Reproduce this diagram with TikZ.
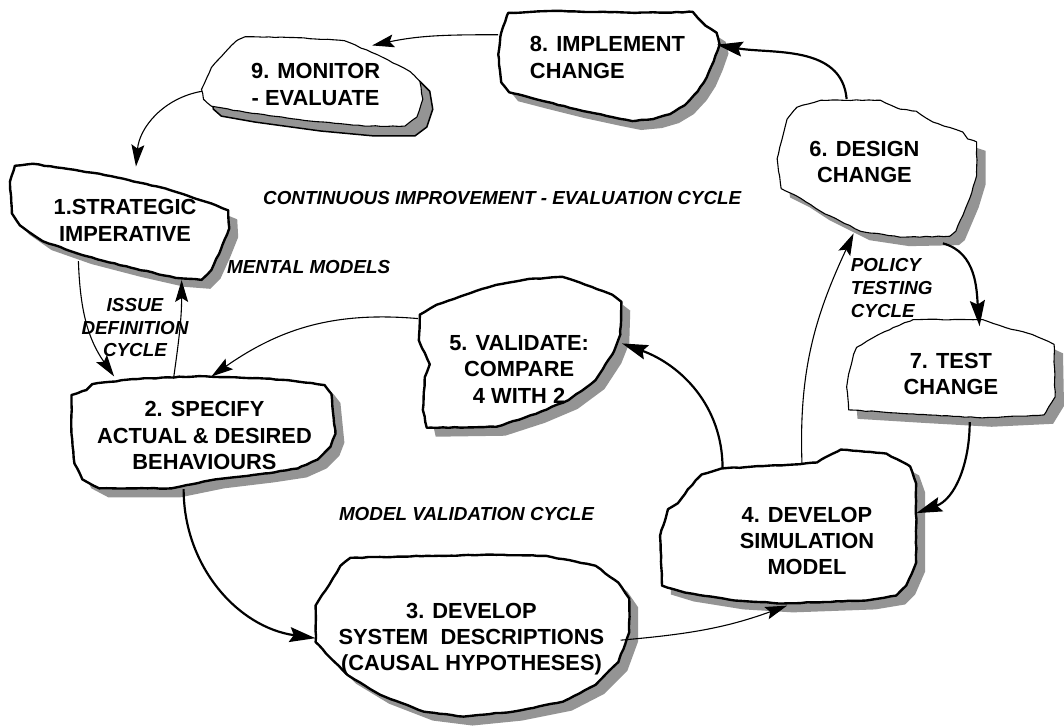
\documentclass[tikz,border=0pt]{standalone}
\usepackage{fontspec}
\setmainfont{Liberation Sans}
\usetikzlibrary{arrows.meta,decorations.pathmorphing}

\tikzset{
  blobshadow/.style={fill=black!42, draw=none},
  blobthick/.style={draw, fill=white, line width=2.4pt, line join=round,
    decorate, decoration={random steps, segment length=6pt, amplitude=0.4pt}},
  blobthin/.style={blobthick, line width=1.1pt},
  boxtext/.style={font=\fontsize{22}{26.5}\selectfont\bfseries, align=center, inner sep=0pt},
  cyclelabel/.style={font=\fontsize{19}{23}\selectfont\bfseries\itshape, align=center, inner sep=0pt},
  link/.style={-{Stealth[length=22pt,width=13pt,inset=4pt]}, line width=1.1pt},
  boldlink/.style={-{Stealth[length=26pt,width=15pt,inset=4pt]}, line width=2.2pt}
}

\begin{document}
\begin{tikzpicture}[x=1pt,y=1pt]
    \path[fill=white] (0,0) rectangle (1064,731);

    % blob outlines, in pixel coordinates
    \begin{scope}[shift={(0,731)}, yscale=-1]
        \draw[blobshadow, draw=black, line width=1.5pt, shift={(10,10)}] (240,40) -- (247,37) -- (300,38) -- (347,41) -- (380,55) -- (413,72) -- (423,82) -- (426,100) -- (420,118) -- (408,127) -- (367,127) -- (313,122) -- (247,113) -- (213,107) -- (205,100) -- (203,90) -- (213,68) -- (223,57) -- (233,46) -- cycle;
        \draw[blobthin] (240,40) -- (247,37) -- (300,38) -- (347,41) -- (380,55) -- (413,72) -- (423,82) -- (426,100) -- (420,118) -- (408,127) -- (367,127) -- (313,122) -- (247,113) -- (213,107) -- (205,100) -- (203,90) -- (213,68) -- (223,57) -- (233,46) -- cycle;

        \fill[blobshadow, shift={(9,9)}] (512,13) -- (560,11) -- (640,13) -- (698,12) -- (703,18) -- (711,26) -- (722,33) -- (725,45) -- (719,62) -- (712,78) -- (703,92) -- (690,106) -- (675,115) -- (658,120) -- (637,122) -- (617,118) -- (580,110) -- (540,100) -- (513,93) -- (505,83) -- (502,55) -- (505,33) -- cycle;
        \draw[blobthick] (512,13) -- (560,11) -- (640,13) -- (698,12) -- (703,18) -- (711,26) -- (722,33) -- (725,45) -- (719,62) -- (712,78) -- (703,92) -- (690,106) -- (675,115) -- (658,120) -- (637,122) -- (617,118) -- (580,110) -- (540,100) -- (513,93) -- (505,83) -- (502,55) -- (505,33) -- cycle;

        \fill[blobshadow, shift={(9,9)}] (15,167) -- (33,165) -- (100,175) -- (167,190) -- (213,205) -- (230,212) -- (231,230) -- (223,250) -- (213,272) -- (203,282) -- (177,280) -- (133,270) -- (83,257) -- (43,243) -- (20,227) -- (12,215) -- (10,183) -- cycle;
        \draw[blobthick] (15,167) -- (33,165) -- (100,175) -- (167,190) -- (213,205) -- (230,212) -- (231,230) -- (223,250) -- (213,272) -- (203,282) -- (177,280) -- (133,270) -- (83,257) -- (43,243) -- (20,227) -- (12,215) -- (10,183) -- cycle;

        \fill[blobshadow, shift={(9,9)}] (72,398) -- (87,393) -- (93,387) -- (133,382) -- (200,379) -- (260,381) -- (290,383) -- (327,388) -- (334,397) -- (338,437) -- (333,450) -- (320,463) -- (300,472) -- (267,477) -- (217,483) -- (173,492) -- (100,492) -- (83,483) -- (75,467) -- (72,437) -- cycle;
        \draw[blobthick] (72,398) -- (87,393) -- (93,387) -- (133,382) -- (200,379) -- (260,381) -- (290,383) -- (327,388) -- (334,397) -- (338,437) -- (333,450) -- (320,463) -- (300,472) -- (267,477) -- (217,483) -- (173,492) -- (100,492) -- (83,483) -- (75,467) -- (72,437) -- cycle;

        \fill[blobshadow, shift={(9,9)}] (423,317) -- (440,307) -- (480,293) -- (500,287) -- (517,284) -- (533,281) -- (567,279) -- (590,287) -- (617,297) -- (626,304) -- (625,337) -- (617,357) -- (600,383) -- (573,403) -- (540,417) -- (500,430) -- (430,431) -- (426,413) -- (428,380) -- (433,367) -- (422,343) -- cycle;
        \draw[blobthick] (423,317) -- (440,307) -- (480,293) -- (500,287) -- (517,284) -- (533,281) -- (567,279) -- (590,287) -- (617,297) -- (626,304) -- (625,337) -- (617,357) -- (600,383) -- (573,403) -- (540,417) -- (500,430) -- (430,431) -- (426,413) -- (428,380) -- (433,367) -- (422,343) -- cycle;

        \fill[blobshadow, shift={(9,9)}] (353,562) -- (430,560) -- (500,559) -- (550,560) -- (600,570) -- (623,587) -- (634,603) -- (634,637) -- (623,667) -- (600,690) -- (567,707) -- (517,717) -- (467,722) -- (427,717) -- (383,700) -- (350,680) -- (333,663) -- (318,647) -- (318,610) -- (333,587) -- (343,570) -- cycle;
        \draw[blobthick] (353,562) -- (430,560) -- (500,559) -- (550,560) -- (600,570) -- (623,587) -- (634,603) -- (634,637) -- (623,667) -- (600,690) -- (567,707) -- (517,717) -- (467,722) -- (427,717) -- (383,700) -- (350,680) -- (333,663) -- (318,647) -- (318,610) -- (333,587) -- (343,570) -- cycle;

        \fill[blobshadow, shift={(9,9)}] (707,478) -- (727,472) -- (800,468) -- (823,466) -- (833,460) -- (847,453) -- (893,457) -- (917,470) -- (923,487) -- (923,567) -- (913,590) -- (903,600) -- (873,605) -- (790,608) -- (740,605) -- (690,597) -- (667,590) -- (665,540) -- (673,513) -- (683,507) -- (693,493) -- cycle;
        \draw[blobthick] (707,478) -- (727,472) -- (800,468) -- (823,466) -- (833,460) -- (847,453) -- (893,457) -- (917,470) -- (923,487) -- (923,567) -- (913,590) -- (903,600) -- (873,605) -- (790,608) -- (740,605) -- (690,597) -- (667,590) -- (665,540) -- (673,513) -- (683,507) -- (693,493) -- cycle;

        \fill[blobshadow, shift={(9,9)}] (803,108) -- (827,101) -- (887,101) -- (907,110) -- (923,112) -- (940,123) -- (970,133) -- (975,140) -- (984,143) -- (984,177) -- (977,200) -- (963,233) -- (957,238) -- (907,239) -- (867,233) -- (847,223) -- (827,213) -- (807,200) -- (787,190) -- (783,160) -- (788,140) -- (793,120) -- cycle;
        \draw[blobthin] (803,108) -- (827,101) -- (887,101) -- (907,110) -- (923,112) -- (940,123) -- (970,133) -- (975,140) -- (984,143) -- (984,177) -- (977,200) -- (963,233) -- (957,238) -- (907,239) -- (867,233) -- (847,223) -- (827,213) -- (807,200) -- (787,190) -- (783,160) -- (788,140) -- (793,120) -- cycle;

        \fill[blobshadow, shift={(9,9)}] (863,350) -- (880,340) -- (900,330) -- (920,322) -- (990,322) -- (1013,330) -- (1040,337) -- (1062,347) -- (1063,400) -- (1052,418) -- (990,421) -- (920,417) -- (855,413) -- (853,390) -- (855,377) -- (860,357) -- cycle;
        \draw[blobthin] (863,350) -- (880,340) -- (900,330) -- (920,322) -- (990,322) -- (1013,330) -- (1040,337) -- (1062,347) -- (1063,400) -- (1052,418) -- (990,421) -- (920,417) -- (855,413) -- (853,390) -- (855,377) -- (860,357) -- cycle;
    \end{scope}

    \node[boxtext, align=left, minimum width=220pt, minimum height=106pt] (implement) at (612,673) {8. IMPLEMENT\\CHANGE};
    \node[boxtext, minimum width=229pt, minimum height=96pt] (monitor) at (318,646) {9. MONITOR\\- EVALUATE};
    \node[boxtext, minimum width=232pt, minimum height=114pt] (strategic) at (126,509) {1.STRATEGIC\\IMPERATIVE};
    \node[boxtext, minimum width=268pt, minimum height=113pt] (specify) at (206,292) {2. SPECIFY\\ACTUAL \& DESIRED\\BEHAVIOURS};
    \node[boxtext, minimum width=203pt, minimum height=140pt] (validate) at (523,359) {5. VALIDATE:\\COMPARE\\4 WITH 2};
    \node[boxtext, minimum width=318pt, minimum height=162pt] (describe) at (475,87) {3. DEVELOP\\SYSTEM\ \ DESCRIPTIONS\\(CAUSAL HYPOTHESES)};
    \node[boxtext, minimum width=220pt, minimum height=156pt] (simulate) at (813,186) {4. DEVELOP\\SIMULATION\\MODEL};
    \node[boxtext, minimum width=176pt, minimum height=126pt] (design) at (871,568) {6. DESIGN\\CHANGE};
    \node[boxtext, minimum width=210pt, minimum height=96pt] (test) at (958,354) {7. TEST\\CHANGE};

    \node[cyclelabel] (improvelbl) at (506,531) {CONTINUOUS IMPROVEMENT - EVALUATION CYCLE};
    \node[cyclelabel] (mentallbl) at (311,462) {MENTAL MODELS};
    \node[cyclelabel] (issuelbl) at (136,401) {ISSUE\\DEFINITION\\CYCLE};
    \node[cyclelabel, align=left, anchor=west] (policylbl) at (857,441) {POLICY\\TESTING\\CYCLE};
    \node[cyclelabel] (validlbl) at (470,213) {MODEL VALIDATION CYCLE};

    \draw[link] ([yshift=23pt]implement.west) to[out=180,in=12] ([xshift=57pt,yshift=-9pt]monitor.north);
    \draw[link] ([yshift=-7pt]monitor.west) to[out=190,in=85] ([xshift=11pt,yshift=-3pt]strategic.north);
    \draw[link] ([xshift=-47pt,yshift=16pt]strategic.south) to[out=-88,in=125] ([xshift=-91pt,yshift=3pt]specify.north);
    \draw[link] ([xshift=-31pt,yshift=2pt]specify.north) to[out=82,in=-90] ([xshift=57pt,yshift=-3pt]strategic.south);
    \draw[link] ([yshift=51pt]validate.west) to[out=175,in=35] ([xshift=7pt,yshift=3pt]specify.north);
    \draw[boldlink] ([xshift=-21pt,yshift=3pt]specify.south) to[out=-90,in=172] ([xshift=2pt,yshift=1pt]describe.west);
    \draw[link] ([xshift=-9pt,yshift=-1pt]describe.east) to[out=5,in=200] ([xshift=-20pt,yshift=13pt]simulate.south);
    \draw[boldlink] ([xshift=-85pt,yshift=-5pt]simulate.north) to[out=90,in=-20] ([xshift=2pt,yshift=26pt]validate.east);
    \draw[link] ([xshift=-5pt]simulate.north) to[out=92,in=-115] ([xshift=-11pt,yshift=-9pt]design.south);
    \draw[boldlink] ([xshift=79pt,yshift=-19pt]design.south) to[out=-15,in=95] ([xshift=29pt]test.north);
    \draw[boldlink] ([xshift=19pt]test.south) to[out=-90,in=20] ([yshift=28pt]simulate.east);
    \draw[boldlink] ([xshift=-18pt]design.north) to[out=95,in=-10] ([yshift=13pt]implement.east);
\end{tikzpicture}
\end{document}
